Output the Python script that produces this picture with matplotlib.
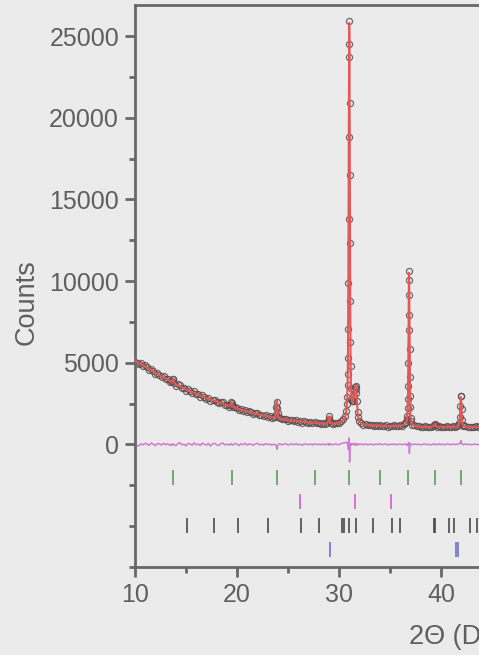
import numpy as np
import matplotlib
matplotlib.use('Agg')
import matplotlib.pyplot as plt
from matplotlib.ticker import MultipleLocator

plt.rcParams['font.family'] = ['Liberation Sans', 'DejaVu Sans']

# ------------------------------------------------------------
# Diagramme de Rietveld : points mesurés, profil calculé,
# différence et positions de Bragg des quatre phases
# ------------------------------------------------------------

two_theta = [
    10.0, 10.2, 10.4, 10.6, 10.8, 11.0, 11.2, 11.4, 11.6, 11.8, 12.0, 12.2, 12.4, 12.6, 12.8, 13.0, 13.2, 13.4,
    13.56, 13.64, 13.70, 13.76, 13.84,
    14.0, 14.2, 14.4, 14.6, 14.8, 15.0, 15.2, 15.4, 15.6, 15.8, 16.0, 16.2, 16.4, 16.6, 16.8, 17.0, 17.2, 17.4,
    17.6, 17.8, 18.0, 18.2, 18.4, 18.6, 18.8, 19.0, 19.2,
    19.36, 19.42, 19.48, 19.54,
    19.6, 19.8, 20.0, 20.2, 20.4, 20.6, 20.8, 21.0, 21.2, 21.4, 21.6, 21.8, 22.0, 22.2, 22.4, 22.6, 22.8, 23.0,
    23.2, 23.4, 23.6,
    23.76, 23.82, 23.86, 23.90, 23.94, 23.98, 24.04,
    24.2, 24.4, 24.6, 24.8, 25.0, 25.2, 25.4, 25.6, 25.8, 26.0, 26.2, 26.4, 26.6, 26.8, 27.0, 27.2, 27.4, 27.6,
    27.8, 28.0, 28.2, 28.4, 28.6, 28.8,
    28.94, 29.00, 29.06, 29.12,
    29.2, 29.4, 29.6, 29.8, 30.0, 30.2, 30.4, 30.6,
    30.70, 30.76, 30.80, 30.84, 30.86, 30.88, 30.90, 30.92, 30.94, 30.96, 30.98, 31.00, 31.02, 31.04, 31.06,
    31.08, 31.10, 31.12, 31.14, 31.18, 31.22, 31.28, 31.34, 31.40, 31.46, 31.52, 31.58, 31.62, 31.66, 31.70,
    31.76, 31.82, 31.90, 32.00,
    32.2, 32.4, 32.6, 32.8, 33.0, 33.2, 33.4, 33.6, 33.8, 34.0, 34.2, 34.4, 34.6, 34.8, 35.0, 35.2, 35.4, 35.6,
    35.8, 36.0, 36.2, 36.4,
    36.50, 36.60, 36.66, 36.70, 36.74, 36.76, 36.78, 36.80, 36.82, 36.84, 36.86, 36.88, 36.90, 36.92, 36.94,
    36.96, 36.98, 37.02, 37.08,
    37.2, 37.4, 37.6, 37.8, 38.0, 38.2, 38.4, 38.6, 38.8, 39.0, 39.2,
    39.32, 39.40, 39.48,
    39.6, 39.8, 40.0, 40.2, 40.4, 40.6, 40.8, 41.0, 41.2, 41.4, 41.6,
    41.70, 41.80, 41.86, 41.90, 41.94, 41.98, 42.02, 42.06, 42.12,
    42.2, 42.4, 42.6, 42.8, 43.0, 43.2, 43.4, 43.6, 43.8, 44.0,
]

y_calc = [
    5150, 5070, 4995, 4920, 4845, 4770, 4695, 4620, 4545, 4470, 4400, 4325, 4250, 4170, 4095, 4020, 3950, 3885,
    3840, 3920, 3980, 3950, 3800,
    3680, 3620, 3555, 3495, 3430, 3370, 3315, 3260, 3205, 3150, 3100, 3050, 3000, 2950, 2900, 2850, 2805, 2760,
    2710, 2665, 2620, 2575, 2530, 2490, 2445, 2400, 2360,
    2400, 2540, 2560, 2400,
    2320, 2260, 2200, 2165, 2130, 2090, 2055, 2020, 1990, 1955, 1925, 1890, 1860, 1830, 1800, 1775, 1745, 1720,
    1695, 1670, 1645,
    1680, 1950, 2450, 2700, 2500, 2000, 1680,
    1580, 1560, 1540, 1520, 1500, 1485, 1470, 1450, 1435, 1420, 1405, 1390, 1375, 1365, 1350, 1340, 1330, 1320,
    1310, 1300, 1290, 1285, 1280, 1280,
    1380, 1620, 1720, 1450,
    1300, 1280, 1290, 1310, 1340, 1390, 1480, 1650,
    1950, 2350, 2800, 3600, 4300, 5400, 7300, 10200, 14000, 18700, 23300, 25800, 25100, 22000, 17200,
    12600, 8900, 6300, 4800, 3400, 2850, 2620, 2600, 2700, 2950, 3300, 3530, 3560, 3470, 3180,
    2600, 2000, 1620, 1420,
    1290, 1240, 1210, 1190, 1180, 1170, 1165, 1160, 1155, 1150, 1145, 1140, 1135, 1130, 1130, 1125, 1125, 1130,
    1140, 1150, 1175, 1220,
    1270, 1400, 1560, 1800, 2300, 2800, 3600, 4900, 6900, 9100, 10500, 10200, 8500, 6200, 4300,
    3000, 2250, 1650, 1380,
    1220, 1150, 1120, 1100, 1090, 1085, 1080, 1080, 1080, 1085, 1110,
    1180, 1250, 1170,
    1100, 1080, 1075, 1070, 1070, 1070, 1075, 1075, 1080, 1090, 1110,
    1160, 1300, 1600, 2200, 2900, 2700, 2050, 1480, 1220,
    1130, 1090, 1080, 1075, 1075, 1075, 1080, 1080, 1085, 1085,
]

# écart observé - calculé
y_resid = [
    -120, -90, -60, 40, -30, 70, 20, -50, 90, 10, -70, 60, 30, -40, 80, -20, 50, -60,
    20, -60, 40, 30, -20,
    -80, 50, 110, -30, 20, -90, 60, 40, -50, 100, -20, 30, -70, 80, 10, -40, 60, -100,
    30, 70, -20, -60, 40, 90, -30, 20, -50,
    30, 40, -20, 10,
    -40, 60, 20, -70, 50, -20, 80, -50, 30, 10, -60, 40, 70, -30, 20, -40, 50, -10,
    30, -50, 20,
    -20, -60, -150, -120, -300, -100, 10,
    40, -30, 20, 50, -40, 10, 30, -20, 60, -30, 20, -50, 40, 10, -20, 30, -40, 50,
    -10, 20, -30, 40, -20, 10,
    30, -40, 50, -20,
    20, -30, 40, 10, -20, 60, 80, 120,
    100, 140, 120, 60, 0, -100, -250, -300, -200, 100, 400, 100, -600, -1080, -700,
    -300, -100, -60, 20, 60, -40, 30, 50, -20, 40, 60, -30, 20, -60, -40,
    30, -20, 40, -10,
    30, -20, 40, -30, 10, 20, -40, 30, -10, 50, -20, 10, 30, -40, 20, -10, 40, -30,
    10, 20, -20, 30,
    20, -30, 10, -40, -60, -40, -20, 60, 120, 60, 100, -150, -550, -350, -150,
    -40, 20, -20, 30,
    -20, 30, -10, 20, -30, 10, 40, -20, 10, -30, 20,
    30, -20, 10,
    -20, 30, -10, 20, -30, 40, 10, -20, 30, -10, 20,
    20, 40, 80, 150, 90, 240, 100, 30, -10,
    -20, 30, -10, 20, -30, 10, 20, -20, 30, -10,
]

# positions de Bragg (2θ) par phase
bragg_phase1 = [13.69, 19.48, 23.89, 27.65, 30.98, 34.02, 36.80, 39.41, 41.96]
bragg_phase2 = [26.18, 31.60, 35.06]
bragg_phase3 = [15.07, 17.78, 20.07, 23.07, 26.24, 28.04, 30.33, 30.49, 30.98, 31.67,
                33.30, 35.16, 35.95, 39.30, 39.40, 40.78, 41.32, 42.84, 43.55]
bragg_phase4 = [29.10, 41.45, 41.70]

assert len(two_theta) == len(y_calc) == len(y_resid)

tt = np.array(two_theta)
calc = np.array(y_calc)
resid = np.array(y_resid)
obs = calc + resid

BG = '#ebebeb'
AXIS = '#686868'
TEXT = '#5f5f5f'

fig = plt.figure(figsize=(4.79, 6.55), dpi=100, facecolor=BG)
ax = fig.add_axes([0.2818, 0.1344, 1.4906, 0.858])
ax.set_facecolor(BG)

ax.plot(tt, obs, 'o', ms=4.4, mfc='none', mec='#5e4e4e', mew=0.9, alpha=0.85, zorder=2)
ax.plot(tt, calc, '-', color='#e25858', lw=1.5, zorder=3)
ax.plot(tt, resid, '-', color='#d27ad2', lw=1.1, zorder=2)

rows = [
    (bragg_phase1, -2000, '#5a9e5a'),
    (bragg_phase2, -3500, '#d25ad2'),
    (bragg_phase3, -4970, '#4a4a4a'),
    (bragg_phase4, -6450, '#7070d0'),
]
for pos, yc, col in rows:
    ax.vlines(pos, yc - 460, yc + 460, color=col, lw=1.2)

ax.set_xlim(10, 80)
ax.set_ylim(-7500, 26900)
ax.set_xticks(range(10, 81, 10))
ax.xaxis.set_minor_locator(MultipleLocator(5))
ax.set_yticks(range(0, 25001, 5000))
ax.yaxis.set_minor_locator(MultipleLocator(2500))

ax.tick_params(which='major', direction='out', length=7.5, width=2, color=AXIS,
               labelcolor=TEXT, labelsize=18, pad=4)
ax.tick_params(which='minor', direction='out', length=4, width=2, color=AXIS)
ax.spines['right'].set_visible(False)
for side in ['left', 'bottom', 'top']:
    ax.spines[side].set_linewidth(2)
    ax.spines[side].set_color(AXIS)

ax.set_xlabel('2Θ (Degree)', fontsize=19.5, color=TEXT)
ax.xaxis.set_label_coords(0.49, -0.102)
ax.set_ylabel('Counts', fontsize=19.5, color=TEXT)
ax.yaxis.set_label_coords(-0.134, 0.4715)

fig.savefig('out.png', dpi=100, facecolor=BG)
